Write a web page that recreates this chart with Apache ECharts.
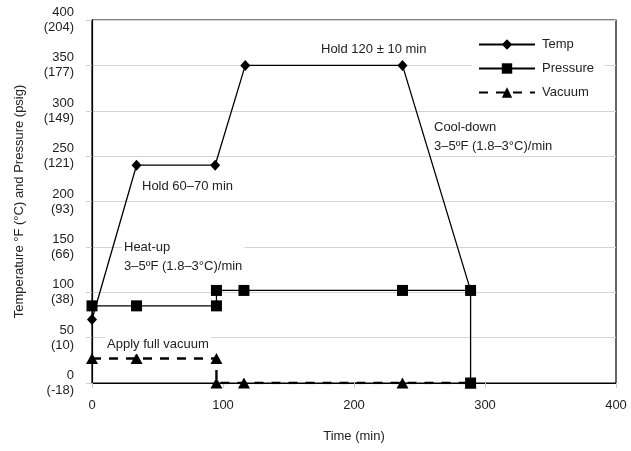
<!DOCTYPE html>
<html>
<head>
<meta charset="utf-8">
<script src="https://cdn.jsdelivr.net/npm/echarts@6/dist/echarts.min.js"></script>
<style>
  html, body { margin: 0; padding: 0; background: #fff; }
  #chart { width: 631px; height: 451px; }
</style>
</head>
<body>
<div id="chart"></div>
<script>
// cure cycle
const tempTime = [0, 34, 94, 117, 237, 289]
const tempValue = [70, 240, 240, 350, 350, 102]
const pressTime = [0, 34, 95, 95, 116, 237, 289, 289]
const pressValue = [85, 85, 85, 102, 102, 102, 102, 0]
const vacTime = [0, 34, 95, 95, 116, 237, 289]
const vacValue = [27, 27, 27, 0, 0, 0, 0]

const yTicksF = [0, 50, 100, 150, 200, 250, 300, 350, 400]
const yTicksC = ['-18', '10', '38', '66', '93', '121', '149', '177', '204']

const font = 'Liberation Sans, Arial, sans-serif'

function pairs(xs, ys) {
  return xs.map((x, i) => [x, ys[i]])
}

// annotation text, white box hides the grid lines behind it
function note(left, top, text) {
  return {
    type: 'text',
    left: left,
    top: top,
    z: 10,
    style: {
      text: text,
      font: '13px ' + font,
      fill: '#222',
      lineHeight: 19,
      backgroundColor: '#fff',
      padding: [0, 2]
    }
  }
}

const chart = echarts.init(document.getElementById('chart'))

const lineBase = {
  type: 'line',
  showSymbol: true,
  itemStyle: { color: '#000' },
  emphasis: { disabled: true },
  animation: false
}

chart.setOption({
  backgroundColor: '#fff',
  textStyle: { fontFamily: font },
  grid: {
    left: 92,
    right: 15,
    top: 20,
    bottom: 68,
    show: true,
    borderColor: '#000',
    borderWidth: 1.2
  },
  legend: {
    orient: 'vertical',
    left: 472,
    top: 34,
    itemWidth: 56,
    itemHeight: 13,
    itemGap: 11,
    padding: [4, 10, 4, 6],
    backgroundColor: '#fff',
    textStyle: { fontFamily: font, fontSize: 13, color: '#222', padding: [0, 0, 0, 2] },
    data: ['Temp', 'Pressure', 'Vacuum']
  },
  xAxis: {
    type: 'value',
    min: 0,
    max: 400,
    interval: 100,
    name: 'Time (min)',
    nameLocation: 'middle',
    nameGap: 47,
    nameTextStyle: { fontFamily: font, fontSize: 13, color: '#222' },
    axisLine: { lineStyle: { color: '#000', width: 1.2 } },
    axisTick: { show: true, length: 5, lineStyle: { color: '#ccc' } },
    axisLabel: { fontFamily: font, fontSize: 13, color: '#222', margin: 16 },
    splitLine: { show: false }
  },
  yAxis: {
    type: 'value',
    min: 0,
    max: 400,
    interval: 50,
    name: 'Temperature °F (°C) and Pressure (psig)',
    nameLocation: 'middle',
    nameGap: 66,
    nameTextStyle: { fontFamily: font, fontSize: 13, color: '#222' },
    axisLine: { lineStyle: { color: '#000', width: 1.2 } },
    axisTick: { show: true, length: 6, lineStyle: { color: '#ccc' } },
    axisLabel: {
      fontFamily: font,
      fontSize: 13,
      color: '#222',
      margin: 18,
      lineHeight: 15,
      align: 'right',
      formatter: (v) => {
        const i = yTicksF.indexOf(v)
        return v + '\n(' + yTicksC[i] + ')'
      }
    },
    splitLine: { lineStyle: { color: '#d4d4d4', width: 1 } }
  },
  series: [
    Object.assign({}, lineBase, {
      name: 'Temp',
      z: 2,
      symbol: 'diamond',
      symbolSize: [10, 11],
      lineStyle: { color: '#000', width: 1.3 },
      data: pairs(tempTime, tempValue)
    }),
    Object.assign({}, lineBase, {
      name: 'Vacuum',
      z: 2,
      symbol: 'triangle',
      symbolSize: [12, 11],
      lineStyle: { color: '#000', width: 2.4, type: [9, 8] },
      data: pairs(vacTime, vacValue)
    }),
    Object.assign({}, lineBase, {
      name: 'Pressure',
      z: 3,
      symbol: 'rect',
      symbolSize: 11,
      lineStyle: { color: '#000', width: 1.3 },
      data: pairs(pressTime, pressValue)
    })
  ],
  graphic: [
    note(319, 40, 'Hold 120 ± 10 min'),
    note(140, 177, 'Hold 60–70 min'),
    note(122, 238, 'Heat-up\n3–5ºF (1.8–3°C)/min'),
    note(432, 118, 'Cool-down\n3–5ºF (1.8–3°C)/min'),
    note(105, 335, 'Apply full vacuum')
  ]
})
</script>
</body>
</html>
